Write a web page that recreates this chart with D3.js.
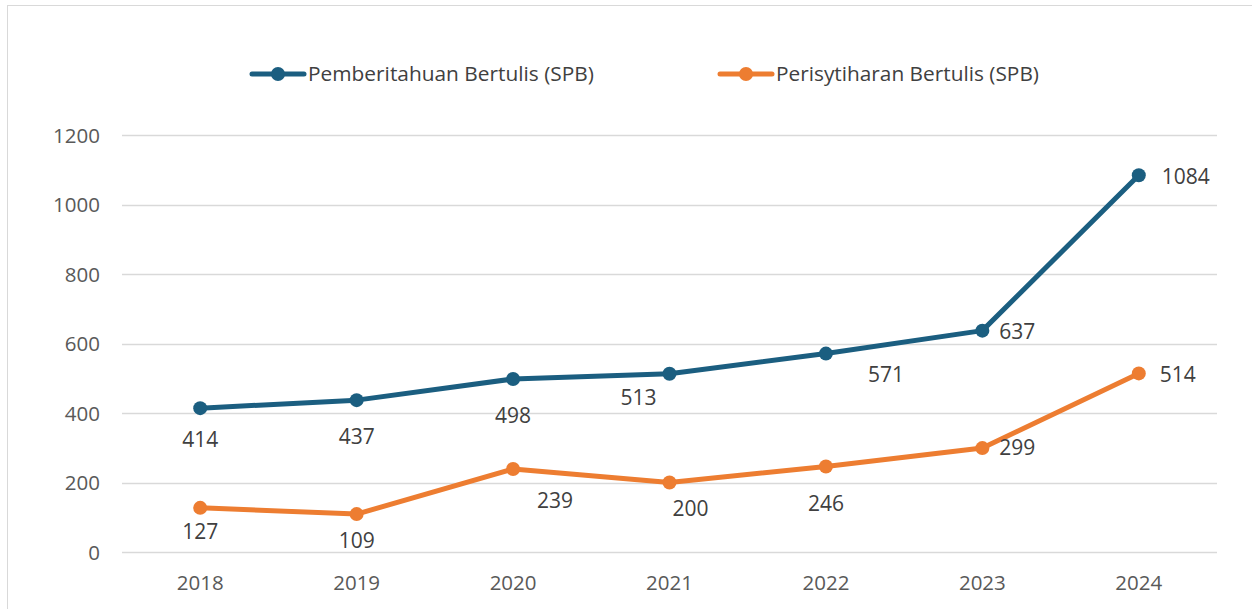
<!DOCTYPE html>
<html>
<head>
<meta charset="utf-8">
<script src="https://cdn.jsdelivr.net/npm/d3@7"></script>
<style>
  body { margin: 0; background: #fff; }
  svg text { font-family: "Open Sans", "Noto Sans", sans-serif; }
</style>
</head>
<body>
<div id="chart"></div>
<script>
// data
const years = ["2018", "2019", "2020", "2021", "2022", "2023", "2024"];
const spbNotice = [414, 437, 498, 513, 571, 637, 1084];
const spbDeclare = [127, 109, 239, 200, 246, 299, 514];
const seriesNames = ["Pemberitahuan Bertulis (SPB)", "Perisytiharan Bertulis (SPB)"];
const yTicks = [0, 200, 400, 600, 800, 1000, 1200];

main();

function main() {
    const W = 1252, H = 609;
    const colors = ["#1b5e80", "#ed7d31"];

    // where each data label sits relative to its point
    const labelOffsets = [
        [[0, 32], [0, 37], [0, 37], [-31, 24], [60, 21], [35, 1], [47, 1]],
        [[0, 24], [0, 27], [42, 32], [21, 26], [0, 37], [35, 0], [39, 1]]
    ];

    const svg = d3.select("#chart").append("svg")
        .attr("width", W)
        .attr("height", H);

    // chart frame
    svg.append("rect")
        .attr("x", 7.5).attr("y", 5.5)
        .attr("width", 1260).attr("height", 620)
        .attr("fill", "none")
        .attr("stroke", "#d9d9d9");

    const x = d3.scaleBand().domain(years).range([122, 1217]);
    const y = d3.scaleLinear().domain([0, 1200]).range([552, 135]);

    // gridlines
    svg.append("g").selectAll("line")
        .data(yTicks)
        .enter()
        .append("line")
        .attr("x1", 122).attr("x2", 1217)
        .attr("y1", d => Math.round(y(d)) + 0.5)
        .attr("y2", d => Math.round(y(d)) + 0.5)
        .attr("stroke", "#d9d9d9")
        .attr("stroke-width", 1.3);

    // y axis labels
    const yAxis = svg.append("g")
        .attr("transform", "translate(100,0)")
        .call(d3.axisLeft(y).tickValues(yTicks).tickFormat(d3.format("d")).tickSize(0).tickPadding(0));
    yAxis.select(".domain").remove();
    yAxis.selectAll("text")
        .attr("font-size", 20.5)
        .attr("fill", "#595959")
        .attr("dy", "0.35em");

    // x axis labels
    const xAxis = svg.append("g")
        .attr("transform", "translate(0,570)")
        .call(d3.axisBottom(x).tickSize(0).tickPadding(0));
    xAxis.select(".domain").remove();
    xAxis.selectAll("text")
        .attr("font-size", 20.5)
        .attr("fill", "#595959")
        .attr("dy", "0.35em")
        .attr("y", 13);

    const cx = d => x(d) + x.bandwidth() / 2;
    const line = d3.line()
        .x(d => cx(d.year))
        .y(d => y(d.value));

    [spbNotice, spbDeclare].forEach((values, s) => {
        const pts = values.map((v, i) => ({year: years[i], value: v, i: i}));
        const g = svg.append("g");

        g.append("path")
            .datum(pts)
            .attr("d", line)
            .attr("fill", "none")
            .attr("stroke", colors[s])
            .attr("stroke-width", 5)
            .attr("stroke-linejoin", "round")
            .attr("stroke-linecap", "round");

        g.selectAll("circle")
            .data(pts)
            .enter()
            .append("circle")
            .attr("cx", d => cx(d.year))
            .attr("cy", d => y(d.value))
            .attr("r", 7)
            .attr("fill", colors[s]);

        g.selectAll(".lbl")
            .data(pts)
            .enter()
            .append("text")
            .attr("class", "lbl")
            .attr("x", d => cx(d.year) + labelOffsets[s][d.i][0])
            .attr("y", d => y(d.value) + labelOffsets[s][d.i][1])
            .attr("dy", "0.35em")
            .attr("text-anchor", "middle")
            .attr("font-size", 21)
            .attr("fill", "#404040")
            .text(d => d.value);
    });

    // legend
    const legendX = [250, 718];
    const legendLen = [286, 263];
    const legend = svg.append("g").selectAll("g")
        .data(seriesNames)
        .enter()
        .append("g")
        .attr("transform", (d, i) => "translate(" + legendX[i] + ",74)");
    legend.append("line")
        .attr("x1", 2).attr("x2", 54)
        .attr("stroke", (d, i) => colors[i])
        .attr("stroke-width", 5)
        .attr("stroke-linecap", "round");
    legend.append("circle")
        .attr("cx", 28).attr("r", 7)
        .attr("fill", (d, i) => colors[i]);
    legend.append("text")
        .attr("x", 58)
        .attr("dy", "0.35em")
        .attr("font-size", 20.5)
        .attr("fill", "#404040")
        .attr("textLength", (d, i) => legendLen[i])
        .attr("lengthAdjust", "spacingAndGlyphs")
        .text(d => d);
}
</script>
</body>
</html>
